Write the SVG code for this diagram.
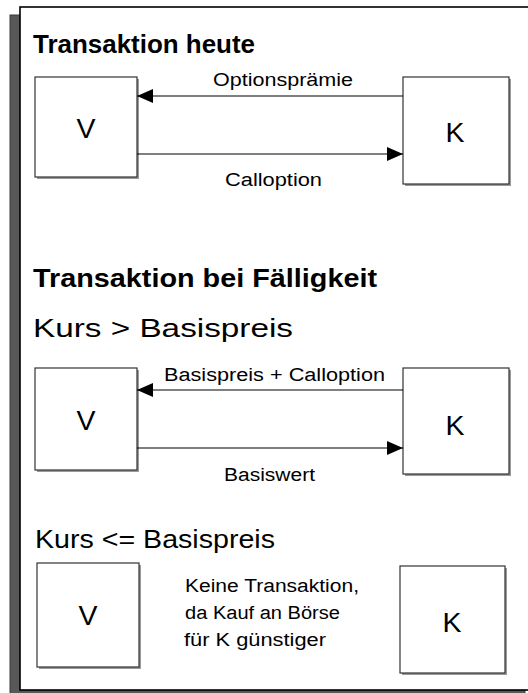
<svg xmlns="http://www.w3.org/2000/svg" width="528" height="693" viewBox="0 0 528 693">
  <style>
    .frame { fill: #ffffff; stroke: #000000; stroke-width: 1.6; }
    .frame-shadow { fill: #585858; stroke: #3a3a3a; stroke-width: 1; }
    .box { fill: #ffffff; stroke: #333333; stroke-width: 1.2; }
    .box-shadow { fill: #9a9a9a; }
    .head { font-family: "Liberation Sans", Arial, sans-serif; font-weight: bold; font-size: 25px; fill: #000; }
    .cond { font-family: "Liberation Sans", Arial, sans-serif; font-size: 26px; fill: #000; }
    .node { font-family: "Liberation Sans", Arial, sans-serif; font-size: 28px; fill: #000; text-anchor: middle; }
    .lbl { font-family: "Liberation Sans", Arial, sans-serif; font-size: 18px; fill: #000; }
    .edge { stroke: #000; stroke-width: 1.2; fill: none; marker-end: url(#arrow); }
  </style>
  <defs>
    <marker id="arrow" viewBox="0 0 16 14" refX="16" refY="7" markerWidth="16" markerHeight="14" markerUnits="userSpaceOnUse" orient="auto">
      <path d="M0,0 L16,7 L0,14 Z" fill="#000"/>
    </marker>
  </defs>

  <!-- page frame with drop shadow -->
  <rect class="frame-shadow" x="10" y="15" width="515" height="690"/>
  <rect class="frame" x="20" y="7" width="520" height="683"/>

  <!-- section 1: today -->
  <text class="head" x="33" y="53" textLength="222" lengthAdjust="spacingAndGlyphs">Transaktion heute</text>

  <g id="v1">
    <rect class="box-shadow" x="37" y="79" width="102" height="100"/>
    <rect class="box" x="35" y="77" width="102" height="100"/>
    <text class="node" x="86" y="138" textLength="19" lengthAdjust="spacingAndGlyphs">V</text>
  </g>
  <g id="k1">
    <rect class="box-shadow" x="405" y="79" width="106" height="107"/>
    <rect class="box" x="403" y="77" width="106" height="107"/>
    <text class="node" x="455" y="142" textLength="19" lengthAdjust="spacingAndGlyphs">K</text>
  </g>

  <!-- section 2: at maturity -->
  <text class="head" x="33" y="287" textLength="344" lengthAdjust="spacingAndGlyphs">Transaktion bei Fälligkeit</text>
  <text class="cond" x="33" y="337" textLength="260" lengthAdjust="spacingAndGlyphs">Kurs &gt; Basispreis</text>

  <g id="v2">
    <rect class="box-shadow" x="37" y="370" width="102" height="102"/>
    <rect class="box" x="35" y="368" width="102" height="102"/>
    <text class="node" x="86" y="430" textLength="19" lengthAdjust="spacingAndGlyphs">V</text>
  </g>
  <g id="k2">
    <rect class="box-shadow" x="405" y="370" width="106" height="106"/>
    <rect class="box" x="403" y="368" width="106" height="106"/>
    <text class="node" x="455" y="435" textLength="19" lengthAdjust="spacingAndGlyphs">K</text>
  </g>

  <!-- case: no exercise -->
  <text class="cond" x="35" y="548" textLength="240" lengthAdjust="spacingAndGlyphs">Kurs &lt;= Basispreis</text>

  <g id="v3">
    <rect class="box-shadow" x="39" y="565" width="102" height="104"/>
    <rect class="box" x="37" y="563" width="102" height="104"/>
    <text class="node" x="88" y="625" textLength="19" lengthAdjust="spacingAndGlyphs">V</text>
  </g>
  <g id="k3">
    <rect class="box-shadow" x="402" y="568" width="105" height="107"/>
    <rect class="box" x="400" y="566" width="105" height="107"/>
    <text class="node" x="452" y="632" textLength="19" lengthAdjust="spacingAndGlyphs">K</text>
  </g>
  <g id="note">
    <text class="lbl" x="185" y="592" textLength="174" lengthAdjust="spacingAndGlyphs">Keine Transaktion,</text>
    <text class="lbl" x="185" y="619" textLength="155" lengthAdjust="spacingAndGlyphs">da Kauf an Börse</text>
    <text class="lbl" x="184" y="646" textLength="142" lengthAdjust="spacingAndGlyphs">für K günstiger</text>
  </g>

  <!-- connectors -->
  <g id="connectors">
    <line class="edge" x1="403" y1="96" x2="137" y2="96"/>
    <text class="lbl" x="213" y="86" textLength="140" lengthAdjust="spacingAndGlyphs">Optionsprämie</text>
    <line class="edge" x1="137" y1="154" x2="403" y2="154"/>
    <text class="lbl" x="225" y="186" textLength="97" lengthAdjust="spacingAndGlyphs">Calloption</text>

    <line class="edge" x1="403" y1="390" x2="137" y2="390"/>
    <text class="lbl" x="164" y="381" textLength="221" lengthAdjust="spacingAndGlyphs">Basispreis + Calloption</text>
    <line class="edge" x1="137" y1="448" x2="403" y2="448"/>
    <text class="lbl" x="224" y="481" textLength="91" lengthAdjust="spacingAndGlyphs">Basiswert</text>
  </g>
</svg>
